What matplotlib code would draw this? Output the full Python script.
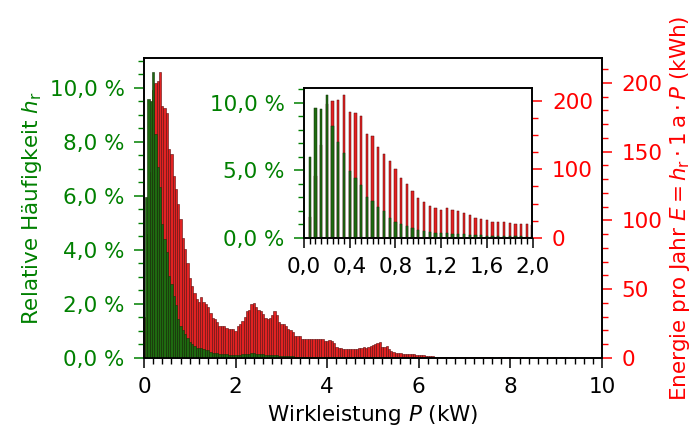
import numpy as np
import matplotlib
matplotlib.use("Agg")
import matplotlib.pyplot as plt
from matplotlib.ticker import MultipleLocator, FuncFormatter

# bin positions (kW)
power_kw = np.round(np.arange(1, 201) * 0.05, 2)

# relative frequency h_r in %
freq_pct = [
    5.97, 9.58, 9.51, 10.59, 8.30, 7.08, 6.31, 4.96, 4.40, 3.91,
    3.05, 2.73, 2.29, 1.97, 1.45, 1.20, 1.02, 0.87, 0.74, 0.61,
    0.52, 0.44, 0.38, 0.36, 0.36, 0.33, 0.30, 0.28, 0.24, 0.20,
    0.19, 0.17, 0.15, 0.14, 0.14, 0.13, 0.12, 0.12, 0.11, 0.10,
    0.12, 0.12, 0.13, 0.14, 0.16, 0.16, 0.17, 0.17, 0.16, 0.15,
    0.14, 0.13, 0.11, 0.11, 0.11, 0.12, 0.12, 0.11, 0.09, 0.09,
    0.09, 0.08, 0.07, 0.07, 0.06, 0.05, 0.05, 0.05, 0.04, 0.04,
    0.04, 0.04, 0.04, 0.04, 0.04, 0.04, 0.04, 0.04, 0.03, 0.03,
    0.03, 0.03, 0.03, 0.02, 0.02, 0.02, 0.02, 0.015, 0.015, 0.015,
    0.015, 0.015, 0.015, 0.015, 0.016, 0.017, 0.016, 0.017, 0.018, 0.019,
    0.021, 0.022, 0.024, 0.016, 0.016, 0.017, 0.012, 0.010, 0.009, 0.007,
    0.006, 0.007, 0.006, 0.005, 0.005, 0.005, 0.005, 0.005, 0.004, 0.004,
    0.004, 0.003, 0.003, 0.003, 0.003, 0.002, 0.002, 0.001, 0.001, 0.001,
    0.001, 0.001, 0.001, 0.002, 0.001, 0.001, 0.001, 0.001, 0.001, 0.001,
    0.001, 0.001, 0.001, 0.001, 0.001, 0.001, 0.001, 0.001, 0.001, 0.001,
    0.001, 0.001, 0.001, 0.001, 0.001, 0.001, 0.001, 0.001, 0.001, 0.001,
    0.001, 0.001, 0.001, 0.001, 0.001, 0.001, 0.001, 0.001, 0.001, 0.001,
    0.001, 0.001, 0.001, 0.001, 0.001, 0.001, 0.001, 0.001, 0.001, 0.001,
    0.001, 0.001, 0.001, 0.001, 0.001, 0.001, 0.001, 0.001, 0.001, 0.001,
    0.001, 0.001, 0.001, 0.001, 0.001, 0.001, 0.001, 0.001, 0.001, 0.001,
]

# energy per year (kWh)
energy_kwh = [
    30, 90, 135, 195, 200, 201, 208, 183, 182, 178,
    152, 148, 132, 123, 112, 101, 87, 79, 69, 58,
    52, 47, 43, 41, 44, 41, 39, 37, 33, 29,
    28, 26, 23, 23, 23, 22, 21, 21, 21, 19.5,
    23, 25, 27, 30, 34, 35, 39, 40, 37, 35,
    34, 32, 29, 28, 29, 31, 34, 31, 26, 25,
    25, 23, 21, 20, 19, 16, 16, 16, 14, 13.6,
    13.6, 13.6, 13.8, 13.6, 13.6, 13.8, 14, 13.6, 12.6, 12,
    13, 12.4, 10.7, 8.2, 7, 7, 6.8, 6.5, 6.3, 6.3,
    6.3, 6.5, 6.5, 7, 7.3, 7.8, 7.5, 8.2, 8.7, 9.2,
    10.2, 10.7, 11.9, 8.2, 8, 8.5, 6.5, 5.3, 4.6, 3.9,
    3.4, 3.6, 3.2, 2.9, 2.9, 2.7, 2.7, 2.7, 2.4, 2.4,
    2.2, 1.9, 1.7, 1.7, 1.7, 1.2, 1.0, 0.7, 0.5, 0.5,
    0.4, 0.6, 0.8, 1.0, 0.8, 0.5, 0.4, 0.4, 0.5, 0.6,
    0.8, 0.7, 0.5, 0.4, 0.4, 0.5, 0.6, 0.7, 0.8, 0.6,
    0.5, 0.4, 0.3, 0.3, 0.4, 0.5, 0.4, 0.3, 0.4, 0.5,
    0.4, 0.3, 0.3, 0.3, 0.4, 0.3, 0.3, 0.2, 0.2, 0.3,
    0.3, 0.2, 0.2, 0.3, 0.3, 0.2, 0.2, 0.3, 0.4, 0.3,
    0.3, 0.5, 0.6, 0.4, 0.3, 0.2, 0.2, 0.3, 0.3, 0.2,
    0.2, 0.3, 0.3, 0.2, 0.2, 0.2, 0.2, 0.3, 0.2, 0.2,
]

assert len(freq_pct) == 200 and len(energy_kwh) == 200

GREEN = "green"
RED = "red"
BAR_GREEN = "#1e6a10"
BAR_GREEN_EDGE = "#14300a"
BAR_RED = "#e22222"
BAR_RED_EDGE = "#5a0a0a"

plt.rcParams.update({
    "font.family": ["DejaVu Sans"],
    "font.size": 15.5,
    "mathtext.fontset": "dejavusans",
    "axes.linewidth": 1.2,
})

W, H = 695, 434
fig = plt.figure(figsize=(W / 100, H / 100), dpi=100)

pct_fmt = FuncFormatter(lambda v, p: f"{v:.1f}".replace(".", ",") + " %")
dec_fmt = FuncFormatter(lambda v, p: f"{v:.1f}".replace(".", ","))


def tick_style(ax, ax2):
    for a in (ax, ax2):
        a.tick_params(which="major", length=7, width=1.1, pad=7)
        a.tick_params(which="minor", length=4, width=1.0)
    ax.tick_params(axis="y", which="both", colors=GREEN)
    ax2.tick_params(axis="y", which="both", colors=RED)
    ax.set_zorder(ax2.get_zorder() + 1)
    ax.patch.set_visible(False)


# ---------- main axes ----------
ax = fig.add_axes([144 / W, 76 / H, 458 / W, 300 / H])
ax2 = ax.twinx()
ax2.bar(power_kw, energy_kwh, width=0.05, color=BAR_RED, edgecolor=BAR_RED_EDGE, linewidth=0.4)
ax.bar(power_kw, freq_pct, width=0.05, color=BAR_GREEN, edgecolor=BAR_GREEN_EDGE, linewidth=0.4)
ax.set_xlim(0, 10)
ax.set_ylim(0, 11.1)
ax2.set_ylim(0, 218)
tick_style(ax, ax2)
ax.xaxis.set_major_locator(MultipleLocator(2))
ax.xaxis.set_minor_locator(MultipleLocator(0.2))
ax.yaxis.set_major_locator(MultipleLocator(2))
ax.yaxis.set_minor_locator(MultipleLocator(0.5))
ax.yaxis.set_major_formatter(pct_fmt)
ax2.yaxis.set_major_locator(MultipleLocator(50))
ax2.yaxis.set_minor_locator(MultipleLocator(10))
ax.set_xlabel("Wirkleistung $P$ (kW)")
ax.set_ylabel("Relative Häufigkeit $h_\\mathrm{r}$", color=GREEN)
ax2.set_ylabel("Energie pro Jahr $E = h_\\mathrm{r} \\cdot 1\\,\\mathrm{a} \\cdot P$ (kWh)", color=RED)

# ---------- inset ----------
axi = fig.add_axes([304 / W, (H - 238) / H, 228.5 / W, 149.7 / H])
axi2 = axi.twinx()
axi2.set_zorder(9)
axi2.bar(power_kw, energy_kwh, width=0.02, color=BAR_RED, edgecolor=BAR_RED_EDGE, linewidth=0.35)
axi.bar(power_kw, freq_pct, width=0.02, color=BAR_GREEN, edgecolor=BAR_GREEN_EDGE, linewidth=0.35)
axi.set_xlim(0, 2.0)
axi.set_ylim(0, 11.05)
axi2.set_ylim(0, 218)
tick_style(axi, axi2)
axi.xaxis.set_major_locator(MultipleLocator(0.4))
axi.xaxis.set_minor_locator(MultipleLocator(0.05))
axi.xaxis.set_major_formatter(dec_fmt)
axi.yaxis.set_major_locator(MultipleLocator(5))
axi.yaxis.set_minor_locator(MultipleLocator(1))
axi.yaxis.set_major_formatter(pct_fmt)
axi2.yaxis.set_major_locator(MultipleLocator(100))
axi2.yaxis.set_minor_locator(MultipleLocator(25))

fig.savefig("out.png", dpi=100, facecolor="white")
